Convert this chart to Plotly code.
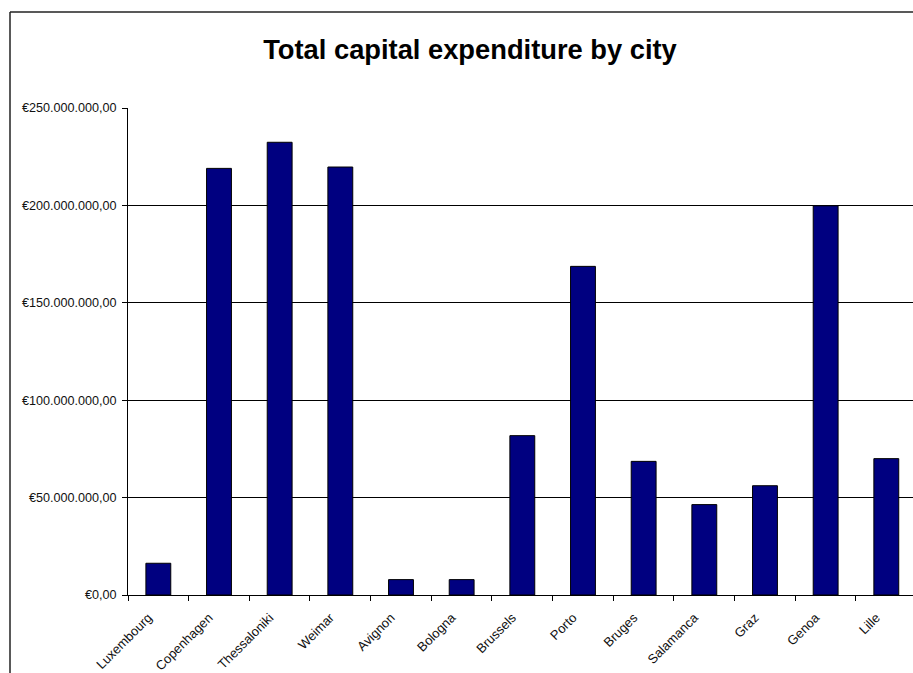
import plotly.graph_objects as go

# Capital expenditure per city (EUR)
cities = ["Luxembourg", "Copenhagen", "Thessaloniki", "Weimar", "Avignon", "Bologna",
          "Brussels", "Porto", "Bruges", "Salamanca", "Graz", "Genoa", "Lille"]
expenditure = [16.3e6, 219.0e6, 232.4e6, 219.7e6, 7.9e6, 7.9e6,
               81.8e6, 168.7e6, 68.6e6, 46.4e6, 56.1e6, 199.8e6, 70.0e6]

y_tick_values = [0, 50e6, 100e6, 150e6, 200e6, 250e6]
y_tick_labels = ["€0,00", "€50.000.000,00", "€100.000.000,00", "€150.000.000,00",
                 "€200.000.000,00", "€250.000.000,00"]

FONT = "Liberation Sans, Arial, sans-serif"
W, H = 913, 673
ML, MR, MT, MB = 128, 0, 108, 78

fig = go.Figure(
    go.Bar(
        x=cities,
        y=expenditure,
        width=0.41,
        marker=dict(color="#000080", line=dict(color="#000000", width=1)),
    )
)

# Frame of the chart area (left and top edges fall inside the page)
plot_w = W - ML - MR
plot_h = H - MT - MB
px_x = lambda px: (px - ML) / plot_w
px_y = lambda py: (H - MB - py) / plot_h
frame = dict(color="#222222", width=1.5)
fig.add_shape(type="line", xref="paper", yref="paper",
              x0=px_x(10), x1=px_x(10), y0=px_y(12), y1=px_y(700), line=frame)
fig.add_shape(type="line", xref="paper", yref="paper",
              x0=px_x(10), x1=px_x(940), y0=px_y(12), y1=px_y(12), line=frame)

fig.update_layout(
    width=W,
    height=H,
    margin=dict(l=ML, r=MR, t=MT, b=MB, pad=0),
    paper_bgcolor="white",
    plot_bgcolor="white",
    showlegend=False,
    font=dict(family=FONT, size=12, color="#000000"),
    title=dict(
        text="<b>Total capital expenditure by city</b>",
        font=dict(family=FONT, size=27.3, color="#000000"),
        xref="container", yref="container",
        x=470 / W, xanchor="center",
        y=1 - 49 / H, yanchor="middle",
    ),
    xaxis=dict(
        type="category",
        range=[-0.5, 12.44],
        showgrid=False,
        showline=True, linecolor="#000000", linewidth=1,
        ticks="outside", ticklen=5, tickcolor="#000000", tickwidth=1,
        tickson="boundaries",
        tickangle=-45,
        ticklabelstandoff=9,
        ticklabelshift=-10,
        tickfont=dict(family=FONT, size=13, color="#111111"),
    ),
    yaxis=dict(
        range=[0, 250e6],
        tickvals=y_tick_values,
        ticktext=y_tick_labels,
        showgrid=True, gridcolor="#000000", gridwidth=1,
        zeroline=False,
        showline=True, linecolor="#000000", linewidth=1,
        ticks="outside", ticklen=5, tickcolor="#000000", tickwidth=1,
        ticklabelstandoff=3,
        tickfont=dict(family=FONT, size=12.6, color="#111111"),
    ),
)

fig.write_html("out.html")
